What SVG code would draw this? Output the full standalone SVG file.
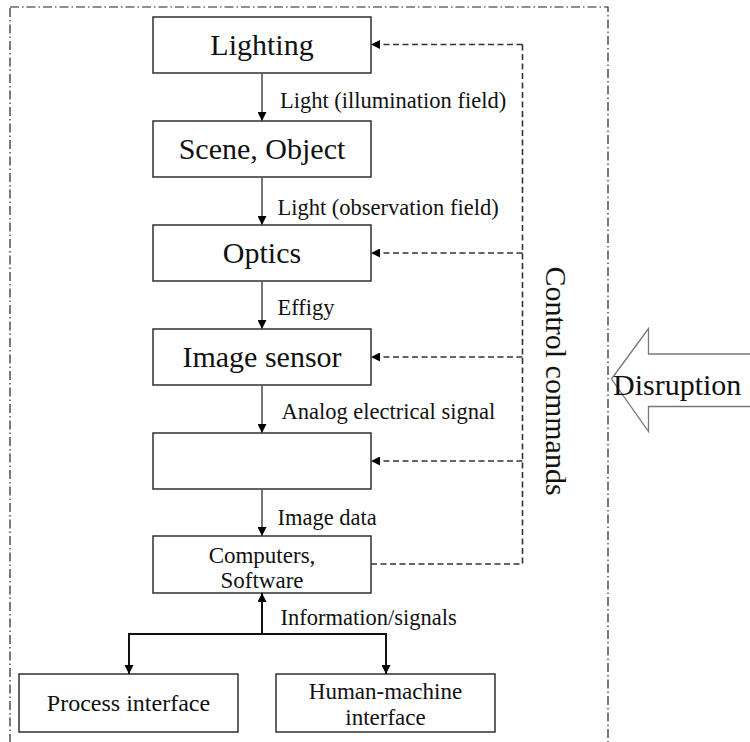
<svg xmlns="http://www.w3.org/2000/svg" width="750" height="742" viewBox="0 0 750 742" font-family="Liberation Serif, serif" fill="#111">
<defs>
<style>
.box{fill:#fff;stroke:#222;stroke-width:1.4}
.flow{stroke:#555;stroke-width:1.6;fill:none}
.flowb{stroke:#111;stroke-width:2;fill:none}
.ctl{stroke:#333;stroke-width:1.6;fill:none;stroke-dasharray:6 3.5}
</style>
<marker id="ah" viewBox="0 0 10 10" refX="10" refY="5" markerWidth="9" markerHeight="9" markerUnits="userSpaceOnUse" orient="auto">
<path d="M0,0 L10,5 L0,10 z" fill="#000"/>
</marker>
</defs>
<rect width="750" height="742" fill="#fff"/>
<rect id="frame" x="10" y="7" width="598" height="760" fill="none" stroke="#222" stroke-width="1.2" stroke-dasharray="9 3 1.5 3"/>

<g id="lighting"><rect class="box" x="153" y="17" width="218" height="56"/><text font-size="30" text-anchor="middle" x="262" y="55">Lighting</text></g>
<g id="scene"><rect class="box" x="153" y="121" width="218" height="56"/><text font-size="30" text-anchor="middle" x="262" y="159">Scene, Object</text></g>
<g id="optics"><rect class="box" x="153" y="225" width="218" height="56"/><text font-size="30" text-anchor="middle" x="262" y="263">Optics</text></g>
<g id="sensor"><rect class="box" x="153" y="329" width="218" height="56"/><text font-size="30" text-anchor="middle" x="262" y="367">Image sensor</text></g>
<g id="empty"><rect class="box" x="153" y="433" width="218" height="56"/></g>
<g id="computers"><rect class="box" x="153" y="536" width="218" height="57"/><text font-size="23" text-anchor="middle" x="262" y="563">Computers,</text><text font-size="23" text-anchor="middle" x="262" y="588">Software</text></g>
<g id="process"><rect class="box" x="19" y="674" width="219" height="58"/><text font-size="24" text-anchor="middle" x="128.5" y="711">Process interface</text></g>
<g id="hmi"><rect class="box" x="276" y="674" width="219" height="58"/><text font-size="23" text-anchor="middle" x="385.5" y="699">Human-machine</text><text font-size="23" text-anchor="middle" x="385.5" y="725">interface</text></g>

<g id="connectors">
<line class="flow" x1="262" y1="73" x2="262" y2="121" marker-end="url(#ah)"/>
<line class="flow" x1="262" y1="177" x2="262" y2="225" marker-end="url(#ah)"/>
<line class="flow" x1="262" y1="281" x2="262" y2="329" marker-end="url(#ah)"/>
<line class="flow" x1="262" y1="385" x2="262" y2="433" marker-end="url(#ah)"/>
<line class="flow" x1="262" y1="489" x2="262" y2="536" marker-end="url(#ah)"/>
<line class="flowb" x1="262" y1="634" x2="262" y2="593" marker-end="url(#ah)"/>
<polyline class="flowb" points="262,634 129,634 129,674" marker-end="url(#ah)"/>
<polyline class="flowb" points="262,634 386,634 386,674" marker-end="url(#ah)"/>
<polyline class="ctl" points="371,564 522.5,564 522.5,44.5"/>
<line class="ctl" x1="522.5" y1="44.5" x2="371" y2="44.5" stroke="#666" marker-end="url(#ah)"/>
<line class="ctl" x1="522.5" y1="253" x2="371" y2="253" marker-end="url(#ah)"/>
<line class="ctl" x1="522.5" y1="357" x2="371" y2="357" marker-end="url(#ah)"/>
<line class="ctl" x1="522.5" y1="461" x2="371" y2="461" marker-end="url(#ah)"/>
<g font-size="22.5">
<text x="280" y="108">Light (illumination field)</text>
<text x="277.5" y="215">Light (observation field)</text>
<text x="277.5" y="315">Effigy</text>
<text x="281.5" y="419">Analog electrical signal</text>
<text x="277.5" y="525">Image data</text>
<text x="280.5" y="625">Information/signals</text>
</g>
</g>

<text font-size="30" text-anchor="middle" transform="translate(546,381) rotate(90)">Control commands</text>

<g id="disruption">
<polygon points="611.5,379 648.5,328.5 648.5,354 752,354 752,406.5 648.5,406.5 648.5,431.5" fill="#fff" stroke="#777" stroke-width="1.3"/>
<text font-size="30" x="613" y="395">Disruption</text>
</g>
</svg>
